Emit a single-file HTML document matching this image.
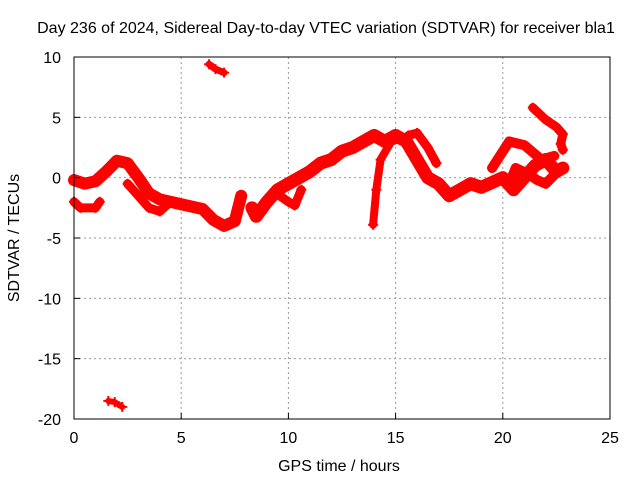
<!DOCTYPE html>
<html><head><meta charset="utf-8"><style>
body{margin:0;background:#fff}
svg{display:block;font-family:"Liberation Sans",sans-serif}
</style></head><body>
<svg id="c" width="640" height="480">
<text x="326" y="33" font-size="16" text-anchor="middle">Day 236 of 2024, Sidereal Day-to-day VTEC variation (SDTVAR) for receiver bla1</text>
<g id="grid"></g>
<g id="series"></g>
<rect x="74" y="57" width="536" height="362" fill="none" stroke="#000" stroke-width="1"/>
<g id="ticks"></g>
<text x="339" y="471" font-size="16" text-anchor="middle">GPS time / hours</text>
<text transform="translate(19,238) rotate(-90)" font-size="16" text-anchor="middle">SDTVAR / TECUs</text>
</svg>
<script>
const xTicks=[0,5,10,15,20,25];
const yTicks=[10,5,0,-5,-10,-15,-20];
const trackMainT=[0,0.5,1,1.5,2,2.5,3,3.5,4,5,6,6.5,7,7.5,7.8];
const trackMainV=[-0.2,-0.5,-0.3,0.5,1.4,1.2,0,-1.3,-1.8,-2.2,-2.6,-3.5,-4,-3.6,-1.5];
const trackLowT=[0,0.3,1,1.2];
const trackLowV=[-2,-2.5,-2.5,-2];
const trackLoopT=[2.5,3,3.5,4,4.5];
const trackLoopV=[-0.5,-1.5,-2.5,-2.8,-2];
const trackMidT=[8.3,8.5,9,9.5,10,10.5,11,11.5,12,12.5,13,13.5,14,14.5,15,15.5,16,16.5,17,17.5,18,18.5,19,20,20.5,21,21.5,22,22.5,22.8];
const trackMidV=[-2.5,-3.2,-2,-1,-0.5,0,0.5,1.2,1.5,2.2,2.5,3,3.5,3,3.5,3,1.5,0,-0.5,-1.5,-1,-0.5,-0.8,0,-1,0,1,1.5,0.5,0.8];
const trackDipT=[9.6,10,10.3,10.6];
const trackDipV=[-1.5,-2,-2.3,-1];
const trackSpikeT=[13.95,14.1,14.3,14.8,15.2];
const trackSpikeV=[-3.9,-1,1.5,3,3.2];
const trackBranchT=[15.6,16,16.5,16.9];
const trackBranchV=[3.5,3.7,2.5,1.2];
const trackRightT=[19.5,20.3,21,21.8,22.4];
const trackRightV=[0.8,3,2.7,1.5,1.8];
const trackLoop2T=[20.3,20.6,21.2,21.6,22,22.5,22.8];
const trackLoop2V=[-0.5,0.8,0.3,-0.2,-0.5,0.4,0.8];
const trackTopT=[21.4,22,22.5,22.8,22.7,22.8];
const trackTopV=[5.8,4.8,4.2,3.6,2.8,2.3];
const trackIsoTopT=[6.3,6.6,7];
const trackIsoTopV=[9.4,9,8.7];
const trackIsoBotT=[1.6,1.9,2.25];
const trackIsoBotV=[-18.5,-18.6,-19];
const tracks=[[trackMainT,trackMainV,12],[trackLowT,trackLowV,9],[trackLoopT,trackLoopV,9],[trackMidT,trackMidV,13],[trackDipT,trackDipV,9],[trackSpikeT,trackSpikeV,8],[trackBranchT,trackBranchV,9],[trackRightT,trackRightV,10],[trackLoop2T,trackLoop2V,10],[trackTopT,trackTopV,9],[trackIsoTopT,trackIsoTopV,7],[trackIsoBotT,trackIsoBotV,6]];
const NS="http://www.w3.org/2000/svg";
const X=h=>74+h*536/25;
const Y=v=>57+(10-v)*362/30;
function mk(t,a){const e=document.createElementNS(NS,t);for(const k in a)e.setAttribute(k,a[k]);return e;}
const grid=document.getElementById('grid'),ticks=document.getElementById('ticks'),ser=document.getElementById('series');
xTicks.forEach(t=>{
 if(t>0&&t<25){const l=mk('line',{x1:X(t),x2:X(t),y1:57,y2:419,stroke:'#999','stroke-dasharray':'2,3'});
 
 grid.appendChild(l);}
 const tk=mk('line',{x1:X(t),x2:X(t),y1:419,y2:413,stroke:'#000'});
 
 ticks.appendChild(tk);
 const tx=mk('text',{x:X(t),y:443,'font-size':16,'text-anchor':'middle'});tx.textContent=t;
 
 ticks.appendChild(tx);
});
yTicks.forEach(t=>{
 if(t<10&&t>-20){const l=mk('line',{x1:74,x2:610,y1:Y(t),y2:Y(t),stroke:'#999','stroke-dasharray':'2,3'});
 
 grid.appendChild(l);}
 const tk=mk('line',{x1:74,x2:80,y1:Y(t),y2:Y(t),stroke:'#000'});
 
 ticks.appendChild(tk);
 const tx=mk('text',{x:61,y:Y(t)+6,'font-size':16,'text-anchor':'end'});tx.textContent=t;
 
 ticks.appendChild(tx);
});
tracks.forEach(([T,V,w])=>{
 const pts=T.map((t,i)=>X(t)+','+Y(V[i])).join(' ');
 const p=mk('polyline',{points:pts,fill:'none',stroke:'#f00','stroke-width':w,'stroke-linejoin':'round','stroke-linecap':'round'});
 
 ser.appendChild(p);
 T.forEach((t,i)=>{
  const m=mk('path',{d:`M${X(t)-5},${Y(V[i])}h10M${X(t)},${Y(V[i])-5}v10`,stroke:'#f00','stroke-width':2});
  
  ser.appendChild(m);
 });
});
</script>
</body></html>
